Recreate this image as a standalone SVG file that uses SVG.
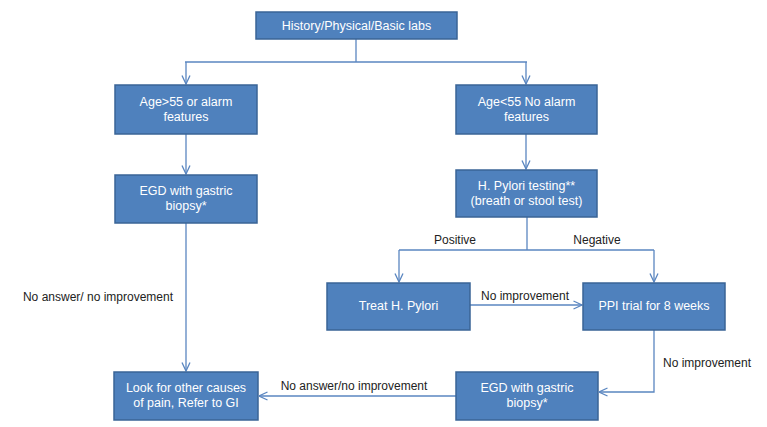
<svg xmlns="http://www.w3.org/2000/svg" width="767" height="427" viewBox="0 0 767 427">
<style>
.box{fill:#4F81BD;stroke:#3A6496;stroke-width:1.5}
.bt{font-family:"Liberation Sans",Arial,sans-serif;font-size:12.5px;fill:#fff;text-anchor:middle}
.lt{font-family:"Liberation Sans",Arial,sans-serif;font-size:12px;fill:#222;text-anchor:middle}
.ln{fill:none;stroke:#5A86C0;stroke-width:1.3}
</style>
<defs>
<marker id="ah" viewBox="0 0 10 10" refX="9.5" refY="5" markerWidth="10" markerHeight="10" markerUnits="userSpaceOnUse" orient="auto">
<polyline points="1,1 9.5,5 1,9" fill="none" stroke="#5A86C0" stroke-width="1.3"/>
</marker>
</defs>
<rect width="767" height="427" fill="#fff"/>
<g id="connectors">
<path class="ln" d="M356,39 V62"/>
<path class="ln" d="M185,62 H527"/>
<path class="ln" d="M186,62 V84" marker-end="url(#ah)"/>
<path class="ln" d="M526,62 V84" marker-end="url(#ah)"/>
<path class="ln" d="M186,134 V174" marker-end="url(#ah)"/>
<path class="ln" d="M526,134 V169" marker-end="url(#ah)"/>
<path class="ln" d="M186,223 V371" marker-end="url(#ah)"/>
<path class="ln" d="M527,217 V250"/>
<path class="ln" d="M399,250 H654"/>
<path class="ln" d="M399,250 V282" marker-end="url(#ah)"/>
<path class="ln" d="M654,250 V282" marker-end="url(#ah)"/>
<path class="ln" d="M470,305 H582" marker-end="url(#ah)"/>
<path class="ln" d="M654,330 V392 H599" marker-end="url(#ah)"/>
<path class="ln" d="M456,396 H259" marker-end="url(#ah)"/>
<text class="lt" x="455" y="244">Positive</text>
<text class="lt" x="597" y="244">Negative</text>
<text class="lt" x="525" y="300">No improvement</text>
<text class="lt" x="707" y="367">No improvement</text>
<text class="lt" x="98" y="301">No answer/ no improvement</text>
<text class="lt" x="354" y="390">No answer/no improvement</text>
</g>
<g id="history">
<rect class="box" x="256" y="12" width="201" height="27"/>
<text class="bt" x="356.5" y="30">History/Physical/Basic labs</text>
</g>
<g id="age-over-55">
<rect class="box" x="115" y="85" width="142" height="49"/>
<text class="bt" x="186" y="106">Age&gt;55 or alarm</text>
<text class="bt" x="186" y="121">features</text>
</g>
<g id="age-under-55">
<rect class="box" x="456" y="85" width="141" height="49"/>
<text class="bt" x="526.5" y="106">Age&lt;55 No alarm</text>
<text class="bt" x="526.5" y="121">features</text>
</g>
<g id="egd-left">
<rect class="box" x="115" y="175" width="142" height="48"/>
<text class="bt" x="186" y="195">EGD with gastric</text>
<text class="bt" x="186" y="210">biopsy*</text>
</g>
<g id="hpylori-testing">
<rect class="box" x="456" y="170" width="141" height="47"/>
<text class="bt" x="526.5" y="190">H. Pylori testing**</text>
<text class="bt" x="526.5" y="205">(breath or stool test)</text>
</g>
<g id="treat-hpylori">
<rect class="box" x="327" y="283" width="143" height="47"/>
<text class="bt" x="398.5" y="310">Treat H. Pylori</text>
</g>
<g id="ppi-trial">
<rect class="box" x="583" y="283" width="142" height="47"/>
<text class="bt" x="654" y="310">PPI trial for 8 weeks</text>
</g>
<g id="egd-right">
<rect class="box" x="456" y="372" width="142" height="48"/>
<text class="bt" x="527" y="392">EGD with gastric</text>
<text class="bt" x="527" y="407">biopsy*</text>
</g>
<g id="look-other">
<rect class="box" x="114" y="372" width="144" height="48"/>
<text class="bt" x="186" y="392">Look for other causes</text>
<text class="bt" x="186" y="407">of pain, Refer to GI</text>
</g>
</svg>
